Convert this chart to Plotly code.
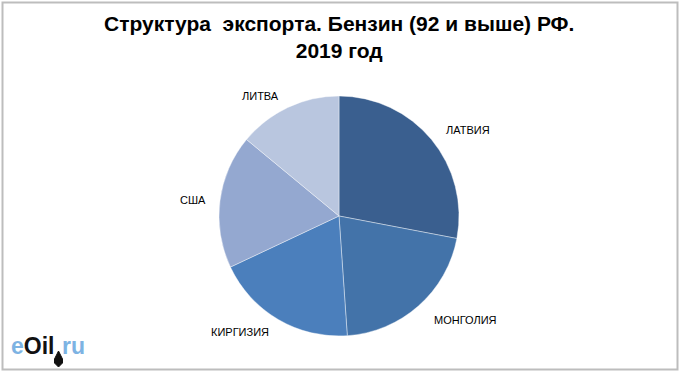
import math
import plotly.graph_objects as go

# Data
countries = ["ЛАТВИЯ", "МОНГОЛИЯ", "КИРГИЗИЯ", "США", "ЛИТВА"]
shares = [28.0, 20.9, 19.1, 18.0, 14.0]
colors = ["#3A5F8F", "#4373A9", "#4B7FBC", "#94A8D0", "#B9C6DF"]

title_line1 = "Структура \u00a0экспорта. Бензин (92 и выше) РФ."
title_line2 = "2019 год"

W, H = 680, 375
cx, cy, R = 339, 216, 120

fig = go.Figure(go.Pie(
    labels=countries,
    values=shares,
    sort=False,
    direction="clockwise",
    rotation=0,
    marker=dict(colors=colors, line=dict(color="rgba(255,255,255,0.4)", width=1)),
    textinfo="none",
    hoverinfo="label+percent",
    showlegend=False,
    domain=dict(x=[(cx - R) / W, (cx + R) / W], y=[(H - cy - R) / H, (H - cy + R) / H]),
))

# Outside labels, placed from slice mid-angles (layout tweaks: radius factor, angle nudge)
label_r = [1.29, 1.36, 1.27, 1.22, 1.20]
label_nudge = [6, -9, 10, -1, -8]
total = sum(shares)
annotations = []
cum = 0.0
for name, v, lr, nd in zip(countries, shares, label_r, label_nudge):
    mid = (cum + v / 2) / total * 2 * math.pi + math.radians(nd)
    cum += v
    px = cx + lr * R * math.sin(mid)
    py = cy - lr * R * math.cos(mid)
    annotations.append(dict(
        x=px / W, y=1 - py / H, xref="paper", yref="paper",
        text=name, showarrow=False, xanchor="center", yanchor="middle",
        font=dict(family="Liberation Sans, Arial, sans-serif", size=11, color="#000000"),
    ))

annotations.append(dict(
    x=339 / W, y=1 - 37 / H, xref="paper", yref="paper",
    text="<b>" + title_line1 + "</b><br><b>" + title_line2 + "</b>",
    showarrow=False, xanchor="center", yanchor="middle",
    font=dict(family="Liberation Sans, Arial, sans-serif", size=21, color="#000000"),
))

# Logo
annotations.append(dict(
    x=9 / W, y=1 - 346 / H, xref="paper", yref="paper",
    text="<b><span style='color:#7DB3E3'>e</span>Oil</b>",
    showarrow=False, xanchor="left", yanchor="middle",
    font=dict(family="Liberation Sans, Arial, sans-serif", size=23, color="#111111"),
))
annotations.append(dict(
    x=60 / W, y=1 - 346 / H, xref="paper", yref="paper",
    text="<b>ru</b>",
    showarrow=False, xanchor="left", yanchor="middle",
    font=dict(family="Liberation Sans, Arial, sans-serif", size=23, color="#7DB3E3"),
))

def px2paper(x, y):
    return x / W, 1 - y / H

# oil drop path
pts = [(58.5, 351), (62.5, 359), (62.5, 363), (58.5, 367), (54.5, 363), (54.5, 359)]
path = "M " + " L ".join(f"{px2paper(x, y)[0]:.5f},{px2paper(x, y)[1]:.5f}" for x, y in pts) + " Z"

shapes = [
    dict(type="rect", xref="paper", yref="paper",
         x0=2.5 / W, x1=677.5 / W, y0=1 - 369.5 / H, y1=1 - 2.5 / H,
         line=dict(color="#BDBDBD", width=2), fillcolor="rgba(0,0,0,0)"),
    dict(type="path", xref="paper", yref="paper", path=path,
         fillcolor="#111111", line=dict(color="#111111", width=1)),
]

fig.update_layout(
    width=W, height=H,
    margin=dict(l=0, r=0, t=0, b=0),
    paper_bgcolor="white", plot_bgcolor="white",
    annotations=annotations,
    shapes=shapes,
)

fig.write_html("out.html",
               config={"displayModeBar": False},
               post_script="document.body.style.margin='0';document.body.style.padding='0';")
